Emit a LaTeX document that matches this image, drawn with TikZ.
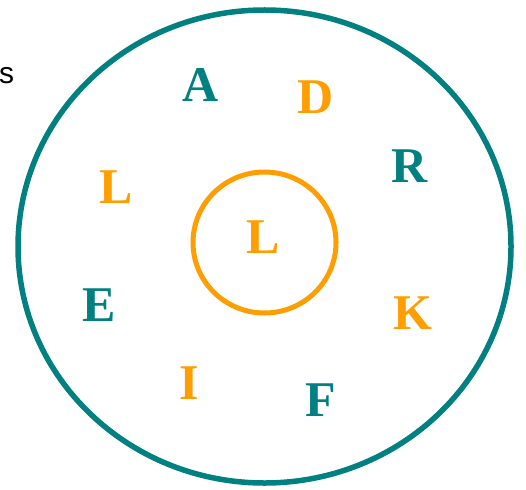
\documentclass[tikz,border=0pt]{standalone}
\usepackage{fontspec}
\setmainfont{Liberation Serif}[BoldFont={Liberation Serif Bold}]
\newfontfamily\arialf{Liberation Sans}
\usepackage{xcolor}
\usetikzlibrary{positioning}
\definecolor{tealc}{HTML}{008080}
\definecolor{orngc}{HTML}{FF9E00}
\tikzset{
  ltr/.style={inner sep=0pt,font=\bfseries\fontsize{50}{50}\selectfont},
  tl/.style={ltr,tealc},
  og/.style={ltr,orngc},
  ring/.style={line width=5.5pt}
}
\begin{document}
\begin{tikzpicture}[x=1pt,y=-1pt]
\useasboundingbox (0,0) rectangle (526,489);
\draw[ring,tealc] (264.5,246.5) ellipse [x radius=246.5,y radius=236.5];
\draw[ring,orngc,line width=5pt] (264.5,242.5) ellipse [x radius=71.5,y radius=70.5];
\node[anchor=west,inner sep=0pt,font=\arialf\fontsize{30}{30}\selectfont] (sw) at (-1,76) {s};
\node[tl] (a) at (201,85) {A};
\node[og] (d) at (316,97) {D};
\node[tl] (r) at (410,166) {R};
\node[og] (l1) at (116,187) {L};
\node[og] (l0) at (263,237) {L};
\node[tl] (e) at (99,305) {E};
\node[og] (k) at (413,313) {K};
\node[og] (i) at (189,383) {I};
\node[tl] (f) at (321,400) {F};
\end{tikzpicture}
\end{document}
